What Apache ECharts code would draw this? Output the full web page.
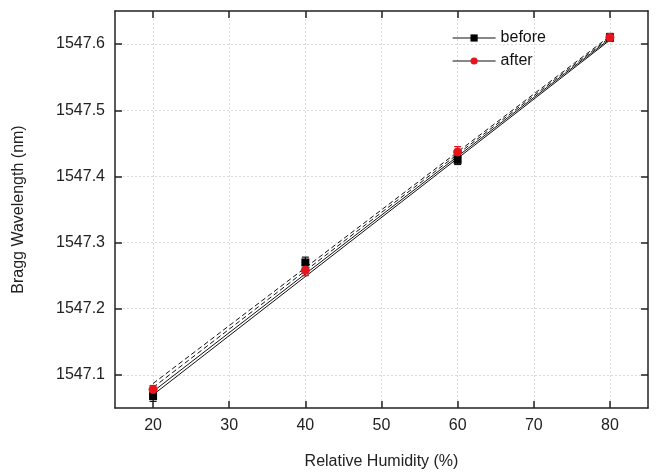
<!DOCTYPE html>
<html>
<head>
<meta charset="utf-8">
<script src="https://cdn.jsdelivr.net/npm/echarts@6/dist/echarts.min.js"></script>
<style>html,body{margin:0;padding:0;background:#fff}#c{width:656px;height:475px}</style>
</head>
<body>
<div id="c"></div>
<script>
var humidity = [20, 40, 60, 80];
var beforeVals = [1547.068, 1547.270, 1547.425, 1547.610];
var afterVals = [1547.078, 1547.258, 1547.437, 1547.610];
var beforeErr = [0.008, 0.008, 0.007, 0.006];
var afterErr = [0.006, 0.008, 0.008, 0.006];
// straight lines between 20% and 80%
var lineX = [20, 80];
var solidLow = [1547.070, 1547.606];
var solidHigh = [1547.075, 1547.608];
var dashLow = [1547.081, 1547.610];
var dashHigh = [1547.087, 1547.612];
var xTicks = [20, 30, 40, 50, 60, 70, 80];
var yTicks = [1547.1, 1547.2, 1547.3, 1547.4, 1547.5, 1547.6];

function pairs(xs, ys) { return xs.map(function (x, i) { return [x, ys[i]]; }); }
function errData(xs, ys, es) { return xs.map(function (x, i) { return [x, ys[i] - es[i], ys[i] + es[i]]; }); }

var font = 'Liberation Sans, Arial, sans-serif';
var axisCommon = {
  type: 'value',
  axisLine: { show: true, lineStyle: { color: '#222', width: 1.5 } },
  axisTick: { show: true, inside: true, length: 7, lineStyle: { color: '#222', width: 1.5 } },
  splitLine: { show: false }
};

function errSeries(data, color) {
  return {
    type: 'custom', silent: true, z: 3,
    data: data,
    renderItem: function (params, api) {
      var x = api.value(0);
      var lo = api.coord([x, api.value(1)]);
      var hi = api.coord([x, api.value(2)]);
      var w = 3.5;
      var st = { stroke: color, lineWidth: 1.2 };
      return { type: 'group', children: [
        { type: 'line', shape: { x1: lo[0], y1: lo[1], x2: hi[0], y2: hi[1] }, style: st },
        { type: 'line', shape: { x1: lo[0] - w, y1: lo[1], x2: lo[0] + w, y2: lo[1] }, style: st },
        { type: 'line', shape: { x1: hi[0] - w, y1: hi[1], x2: hi[0] + w, y2: hi[1] }, style: st }
      ] };
    }
  };
}

function straight(ys, dashed) {
  return {
    type: 'line', data: pairs(lineX, ys), symbol: 'none', silent: true, z: 2,
    lineStyle: { color: '#111', width: 1, type: dashed ? [5, 3] : 'solid' }
  };
}

var chart = echarts.init(document.getElementById('c'), null, { renderer: 'canvas' });
chart.setOption({
  animation: false,
  backgroundColor: '#fff',
  textStyle: { fontFamily: font },
  grid: { left: 115, right: 8, top: 11, bottom: 67 },
  legend: {
    data: ['before', 'after'],
    orient: 'vertical',
    left: 447, top: 25,
    itemWidth: 43, itemHeight: 9, itemGap: 7,
    textStyle: { fontSize: 16, color: '#111', fontFamily: font },
    lineStyle: { color: '#111', width: 1.2, opacity: 1, type: 'solid' }
  },
  xAxis: [
    Object.assign({}, axisCommon, {
      min: 15, max: 85,
      name: 'Relative Humidity (%)', nameLocation: 'middle', nameGap: 46,
      nameTextStyle: { fontSize: 16, color: '#222', fontFamily: font },
      axisTick: Object.assign({}, axisCommon.axisTick, { customValues: xTicks }),
      axisLabel: { customValues: xTicks, fontSize: 16, color: '#222', margin: 10, fontFamily: font },
      splitLine: { show: true, lineStyle: { color: '#dcdcdc', type: [2, 2], width: 1 } }
    }),
    Object.assign({}, axisCommon, {
      min: 15, max: 85, position: 'top',
      axisTick: Object.assign({}, axisCommon.axisTick, { customValues: xTicks }),
      axisLabel: { show: false, customValues: xTicks }
    })
  ],
  yAxis: [
    Object.assign({}, axisCommon, {
      min: 1547.05, max: 1547.65,
      name: 'Bragg Wavelength (nm)', nameLocation: 'middle', nameGap: 88,
      nameTextStyle: { fontSize: 16, color: '#222', fontFamily: font },
      axisTick: Object.assign({}, axisCommon.axisTick, { customValues: yTicks }),
      axisLabel: { customValues: yTicks, fontSize: 16, color: '#222', margin: 10, fontFamily: font,
        formatter: function (v) { return v.toFixed(1); } },
      splitLine: { show: true, lineStyle: { color: '#dcdcdc', type: [2, 2], width: 1 } }
    }),
    Object.assign({}, axisCommon, {
      min: 1547.05, max: 1547.65, position: 'right',
      axisTick: Object.assign({}, axisCommon.axisTick, { customValues: yTicks }),
      axisLabel: { show: false, customValues: yTicks }
    })
  ],
  series: [
    straight(solidLow, false),
    straight(solidHigh, false),
    straight(dashLow, true),
    straight(dashHigh, true),
    errSeries(errData(humidity, beforeVals, beforeErr), '#111'),
    errSeries(errData(humidity, afterVals, afterErr), '#e0141a'),
    {
      name: 'before', type: 'line', data: pairs(humidity, beforeVals), z: 4,
      symbol: 'rect', symbolSize: 8, showAllSymbol: true,
      itemStyle: { color: '#000' },
      lineStyle: { opacity: 0 }
    },
    {
      name: 'after', type: 'line', data: pairs(humidity, afterVals), z: 5,
      symbol: 'circle', symbolSize: 9, showAllSymbol: true,
      itemStyle: { color: '#e8141b' },
      lineStyle: { opacity: 0 }
    }
  ]
});
</script>
</body>
</html>
